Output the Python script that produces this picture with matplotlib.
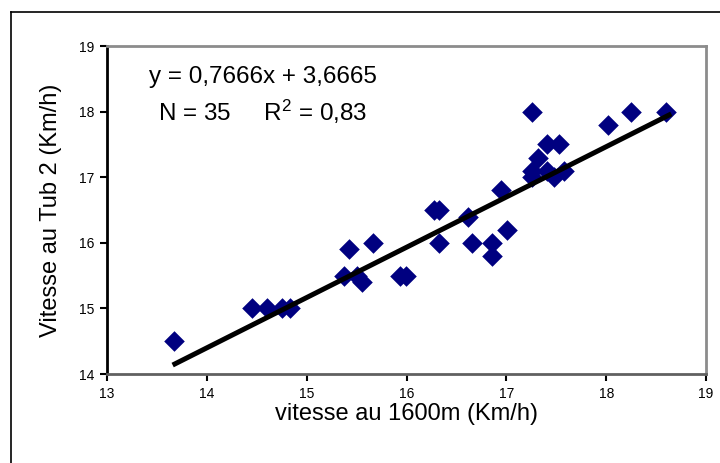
import matplotlib.pyplot as plt
import numpy as np
from matplotlib.lines import Line2D

plt.rcParams['font.family'] = ['Liberation Sans', 'DejaVu Sans']
plt.rcParams['mathtext.fontset'] = 'custom'
plt.rcParams['mathtext.rm'] = 'Liberation Sans'
plt.rcParams['mathtext.it'] = 'Liberation Sans:italic'

# Vitesse au 1600m vs vitesse au Tub 2 (Km/h)
v1600 = [13.67, 14.45, 14.60, 14.75, 14.83, 15.37, 15.42, 15.50, 15.55, 15.66,
         15.93, 15.99, 16.28, 16.33, 16.62, 16.33, 16.66, 16.86, 16.86, 17.01,
         16.95, 17.26, 18.02, 18.25, 18.60, 17.41, 17.53, 17.32, 17.26, 17.26,
         17.41, 17.48, 17.58]
vtub2 = [14.5, 15.0, 15.0, 15.0, 15.0, 15.5, 15.9, 15.5, 15.4, 16.0,
         15.5, 15.5, 16.5, 16.5, 16.4, 16.0, 16.0, 16.0, 15.8, 16.2,
         16.8, 18.0, 17.8, 18.0, 18.0, 17.5, 17.5, 17.3, 17.1, 17.0,
         17.1, 17.0, 17.1]

slope = 0.7666
intercept = 3.6665
fit_range = [13.68, 18.63]

fig = plt.figure(figsize=(7.2, 4.63), dpi=100)
ax = fig.add_axes([0.1486, 0.1922, 0.832, 0.7084])

ax.scatter(v1600, vtub2, marker='D', s=110, color='#000080', zorder=3, linewidths=0)
xl = np.array(fit_range)
ax.plot(xl, slope * xl + intercept, color='black', lw=3.6, zorder=4)

ax.set_xlim(13, 19)
ax.set_ylim(14, 19)
ax.set_xticks(range(13, 20))
ax.set_yticks(range(14, 20))
ax.tick_params(direction='out', length=5, width=1.5, labelsize=10, pad=4)

ax.spines['left'].set_color('black')
ax.spines['left'].set_linewidth(2)
ax.spines['bottom'].set_color('#606060')
ax.spines['bottom'].set_linewidth(2)
for s in ['top', 'right']:
    ax.spines[s].set_color('#8c8c8c')
    ax.spines[s].set_linewidth(2)

ax.set_xlabel('vitesse au 1600m (Km/h)', fontsize=17, labelpad=2)
ax.set_ylabel('Vitesse au Tub 2 (Km/h)', fontsize=17, labelpad=12)

fig.text(263 / 720, 1 - 77 / 463, 'y = 0,7666x + 3,6665', fontsize=17.5,
         ha='center', va='center')
fig.text(263 / 720, 1 - 112 / 463, 'N = 35     R$^{2}$ = 0,83', fontsize=17.5,
         ha='center', va='center')

# outer chart border
fig.add_artist(Line2D([11 / 720, 1], [1 - 12 / 463] * 2, color='black', lw=1.2,
                      transform=fig.transFigure))
fig.add_artist(Line2D([11 / 720] * 2, [0, 1 - 12 / 463], color='black', lw=1.2,
                      transform=fig.transFigure))

fig.savefig('out.png', dpi=100)
